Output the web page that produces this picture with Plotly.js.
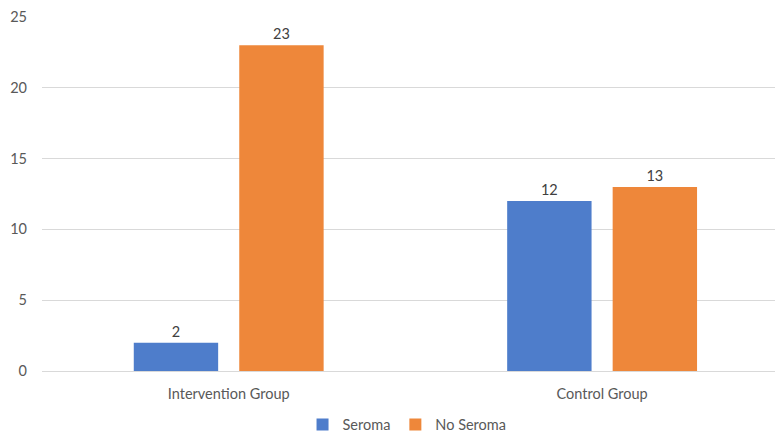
<!DOCTYPE html>
<html><head><meta charset="utf-8">
<script src="https://cdn.plot.ly/plotly-3.0.1.min.js"></script>
<style>html,body{margin:0;padding:0;background:#fff}#c{width:777px;height:435px}</style>
</head><body><div id="c"></div>
<script>
const categories = ["Intervention Group", "Control Group"];
const seroma = [2, 12];
const noSeroma = [23, 13];
const yTicks = [0, 5, 10, 15, 20, 25];

const font = {family: "Lato, 'Open Sans', sans-serif", size: 14.5, color: "#595959"};
const labelFont = {family: font.family, size: 14.5, color: "#404040"};
const traces = [
  {type: "bar", name: "Seroma", x: categories, y: seroma, marker: {color: "#4E7DCB"},
   text: seroma.map(String), textposition: "outside", cliponaxis: false, textfont: labelFont},
  {type: "bar", name: "No Seroma", x: categories, y: noSeroma, marker: {color: "#EE873A"},
   text: noSeroma.map(String), textposition: "outside", cliponaxis: false, textfont: labelFont}
];
const layout = {
  width: 777, height: 435,
  margin: {l: 42, r: 2, t: 17, b: 64},
  paper_bgcolor: "#fff", plot_bgcolor: "#fff",
  font: font,
  barmode: "group", bargap: 0.435, bargroupgap: 0.2,
  xaxis: {range: [-0.5, 1.463], showgrid: false, zeroline: false, showline: false,
          ticks: "", tickfont: font, ticklabelstandoff: 12, automargin: false},
  yaxis: {range: [0, 25], tickvals: yTicks, showgrid: true, gridcolor: "#D9D9D9", gridwidth: 1,
          zeroline: true, zerolinecolor: "#D9D9D9", showline: false, ticks: "", ticklabelstandoff: 14,
          tickfont: font, automargin: false},
  showlegend: true,
  legend: {orientation: "h", x: 0.498, xanchor: "center", yref: "container", y: 0.024, yanchor: "middle",
           font: font, itemwidth: 30, traceorder: "normal"}
};
Plotly.newPlot("c", traces, layout, {displayModeBar: false, staticPlot: true});
</script></body></html>
